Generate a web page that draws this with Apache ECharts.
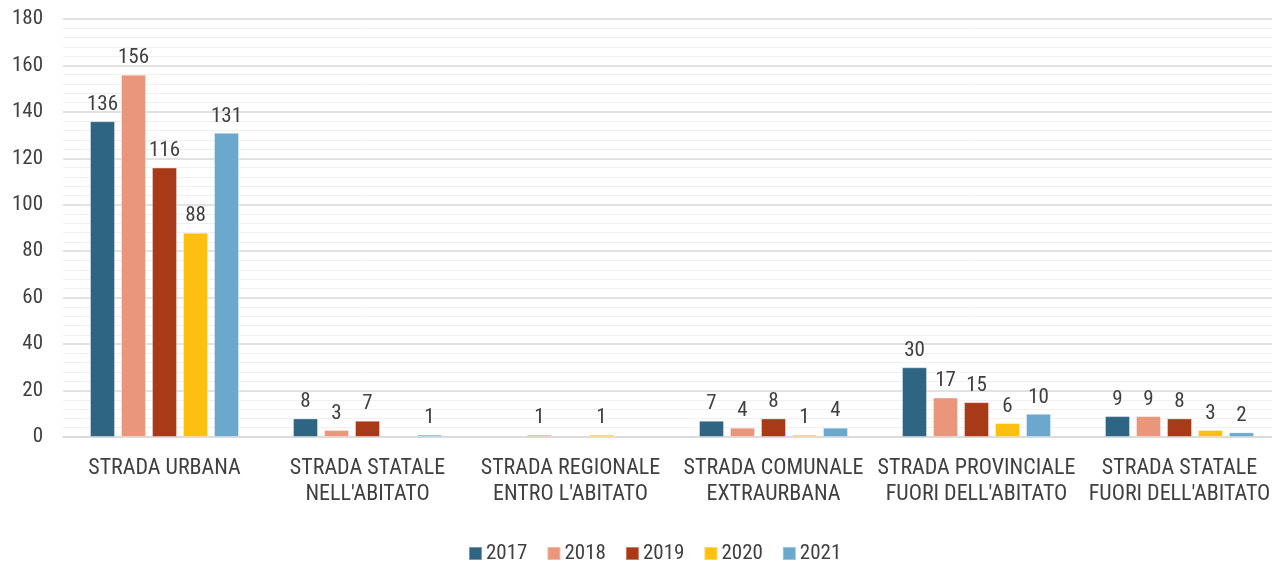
<!DOCTYPE html>
<html>
<head>
<meta charset="utf-8">
<script src="https://cdn.jsdelivr.net/npm/echarts@6/dist/echarts.min.js"></script>
<style>
  html, body { margin: 0; padding: 0; background: #fff; }
  #chart { width: 1272px; height: 561px; }
</style>
</head>
<body>
<div id="chart"></div>
<script>
// Road types (category axis)
const categories = [
  'STRADA URBANA',
  'STRADA STATALE\nNELL\'ABITATO',
  'STRADA REGIONALE\nENTRO L\'ABITATO',
  'STRADA COMUNALE\nEXTRAURBANA',
  'STRADA PROVINCIALE\nFUORI DELL\'ABITATO',
  'STRADA STATALE\nFUORI DELL\'ABITATO'
];
const years = ['2017', '2018', '2019', '2020', '2021'];

// Counts per year, one value per road type (null = none)
const v2017 = [136, 8, null, 7, 30, 9];
const v2018 = [156, 3, 1, 4, 17, 9];
const v2019 = [116, 7, null, 8, 15, 8];
const v2020 = [88, null, 1, 1, 6, 3];
const v2021 = [131, 1, null, 4, 10, 2];

const colors = ['#2e6583', '#ea967b', '#a83a18', '#fdc010', '#6aa8cd'];
const values = [v2017, v2018, v2019, v2020, v2021];

const FONT = '"Liberation Sans Narrow", "Roboto Condensed", "Arial Narrow", Roboto, sans-serif';
const TXT = '#404040';

const chart = echarts.init(document.getElementById('chart'));
chart.setOption({
  animation: false,
  color: colors,
  textStyle: { fontFamily: FONT },
  grid: { left: 63, width: 1218, top: 19, bottom: 124, outerBoundsMode: 'none' },
  legend: {
    top: 538,
    left: 463,
    itemWidth: 13,
    itemHeight: 13,
    itemGap: 19,
    icon: 'rect',
    textStyle: { fontFamily: FONT, fontSize: 21, color: TXT, padding: [0, 0, 0, -1] },
    data: years
  },
  xAxis: {
    type: 'category',
    data: categories,
    axisTick: { show: false },
    axisLine: { show: true, lineStyle: { color: '#d9d9d9', width: 1.5 } },
    axisLabel: {
      fontFamily: FONT, fontSize: 22, color: TXT, margin: 18, lineHeight: 26,
      interval: 0
    }
  },
  yAxis: {
    type: 'value',
    min: 0, max: 180, interval: 20,
    axisLine: { show: false },
    axisTick: { show: false },
    axisLabel: { fontFamily: FONT, fontSize: 21, color: TXT, margin: 20 },
    splitLine: { show: true, lineStyle: { color: '#d9d9d9', width: 1.5 } },
    minorTick: { show: false, splitNumber: 5 },
    minorSplitLine: { show: true, lineStyle: { color: '#f0f0f0', width: 1 } }
  },
  series: years.map((y, i) => ({
    name: y,
    type: 'bar',
    data: values[i],
    barWidth: 25,
    barGap: '24%',
    itemStyle: { borderColor: 'rgba(255,255,255,0.35)', borderWidth: 1 },
    label: {
      show: true,
      position: 'top',
      distance: 6,
      fontFamily: FONT,
      fontSize: 21,
      color: TXT
    }
  }))
});
</script>
</body>
</html>
